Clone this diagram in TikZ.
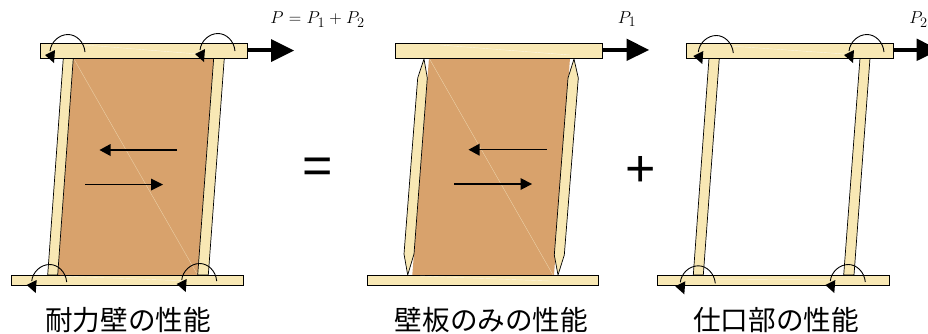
\documentclass[tikz,border=0pt]{standalone}
\usepackage{fontspec}
\newfontfamily\cjk{Noto Sans CJK JP}
\setsansfont{Liberation Sans}
\definecolor{wood}{HTML}{F8E8B4}
\definecolor{panel}{HTML}{D8A26C}
\definecolor{seam}{HTML}{EBCFA6}
\tikzset{
  woodpart/.style={fill=wood,draw=black,line width=0.7pt,line join=miter},
  panelpart/.style={fill=panel,draw=none},
  seamline/.style={draw=seam,line width=0.4pt},
  beamseam/.style={draw=white,line width=0.4pt,opacity=0.6},
  innerarrow/.style={draw=black,line width=1.1pt},
  loadshaft/.style={draw=black,line width=4pt},
  caption/.style={font=\cjk\fontsize{27.6}{30}\selectfont,inner sep=0pt,anchor=center},
  mathlabel/.style={font=\fontsize{19}{22}\selectfont,inner sep=0pt,anchor=center},
  opsign/.style={font=\sffamily\fontsize{52}{60}\selectfont,inner sep=0pt,anchor=center},
  rot/.pic={
    \draw[black,line width=0.9pt] (0,0) .. controls (-1,-10.5) and (-9,-17.5) .. (-17,-17.5)
       .. controls (-26,-17.5) and (-34,-10) .. (-35,-1);
    \fill[black] (-40,3) -- (-30,-2) -- (-31,11) -- cycle;
  }
}
\begin{document}
\begin{tikzpicture}[x=1pt,y=-1pt]
\useasboundingbox (0,0) rectangle (928,333);
\clip (0,0) rectangle (928,333);

% left frame
\fill[panelpart] (73.3,58) -- (213.7,58) -- (197.7,275) -- (57.7,275) -- cycle;
\draw[seamline] (73.3,58) -- (197.7,275);
\draw[woodpart] (63.3,58) -- (73.3,58) -- (57.7,275) -- (47.7,275) -- cycle;
\draw[woodpart] (213.7,58) -- (224.3,58) -- (208.3,275) -- (197.7,275) -- cycle;
\draw[woodpart] (40.5,43.5) rectangle (247.5,58.5);
\draw[woodpart] (11.5,275) rectangle (243.3,285);
\draw[beamseam] (85,45) -- (198,54);
\draw[beamseam] (60,276) -- (190,281);
\draw[loadshaft] (247.5,50.3) -- (272,50.3);
\fill[black] (271,39) -- (294,50.5) -- (271,62) -- cycle;
\draw[innerarrow] (177,150) -- (109,150);
\fill[black] (110.5,144) -- (99.5,150) -- (110.5,156) -- cycle;
\draw[innerarrow] (85,184.5) -- (153,184.5);
\fill[black] (151,178.5) -- (163,184.5) -- (151,190.5) -- cycle;
\pic at (85,52) {rot};
\pic at (235,51) {rot};
\pic at (66.7,282) {rot};
\pic at (216.7,281) {rot};

% middle frame
\fill[panelpart] (429,58) -- (570,58) -- (554,275) -- (412.3,275) -- cycle;
\draw[seamline] (429,58) -- (553,275);
\draw[woodpart] (424,59) -- (427.3,78) -- (414,254) -- (407.7,275) -- (404,254) -- (417.7,78) -- cycle;
\draw[woodpart] (574,59) -- (578.3,78) -- (564.3,255) -- (558,275) -- (554.3,255) -- (568,78) -- cycle;
\draw[woodpart] (395.7,43.5) rectangle (602.7,58.5);
\draw[woodpart] (367,275) rectangle (598.7,285);
\draw[beamseam] (440,45) -- (570,55);
\draw[beamseam] (420,276) -- (550,281);
\draw[loadshaft] (602.7,50) -- (628,50);
\fill[black] (626.5,38.5) -- (649,50) -- (626.5,61) -- cycle;
\draw[innerarrow] (546.7,149.7) -- (478,149.7);
\fill[black] (479.5,143.7) -- (468.5,149.7) -- (479.5,155.7) -- cycle;
\draw[innerarrow] (454,184) -- (522,184);
\fill[black] (520.5,178) -- (532,184) -- (520.5,190) -- cycle;

% right frame
\draw[woodpart] (709,58) -- (719.3,58) -- (703.3,275) -- (693.3,275) -- cycle;
\draw[woodpart] (860,58) -- (870,58) -- (854,275) -- (843.7,275) -- cycle;
\draw[woodpart] (686.3,43.5) rectangle (893.3,58.5);
\draw[woodpart] (657.3,275) rectangle (889.3,285);
\draw[beamseam] (730,46) -- (845,54);
\draw[beamseam] (710,279) -- (840,280);
\draw[loadshaft] (893.3,50) -- (918,50);
\fill[black] (916.7,38.5) -- (939,50) -- (916.7,61) -- cycle;
\pic at (733.3,53) {rot};
\pic at (884,52) {rot};
\pic at (715.3,283.3) {rot};
\pic at (865.3,282) {rot};

% signs
\node[opsign] (eq) at (318,171) {=};
\node[opsign] (pl) at (640.5,171) {+};

% load labels
\node[mathlabel] (pa) at (317.5,19.5) {\thickmuskip=5.5mu\medmuskip=4.5mu$P=P_1+P_2$};
\node[mathlabel] (pb) at (627,19) {$P_1$};
\node[mathlabel] (pc) at (918.5,19.5) {$P_2$};

% captions
\node[caption] (ca) at (128,320.5) {耐力壁の性能};
\node[caption] (cb) at (491.5,320.5) {壁板のみの性能};
\node[caption] (cc) at (776,320.5) {仕口部の性能};
\end{tikzpicture}
\end{document}
